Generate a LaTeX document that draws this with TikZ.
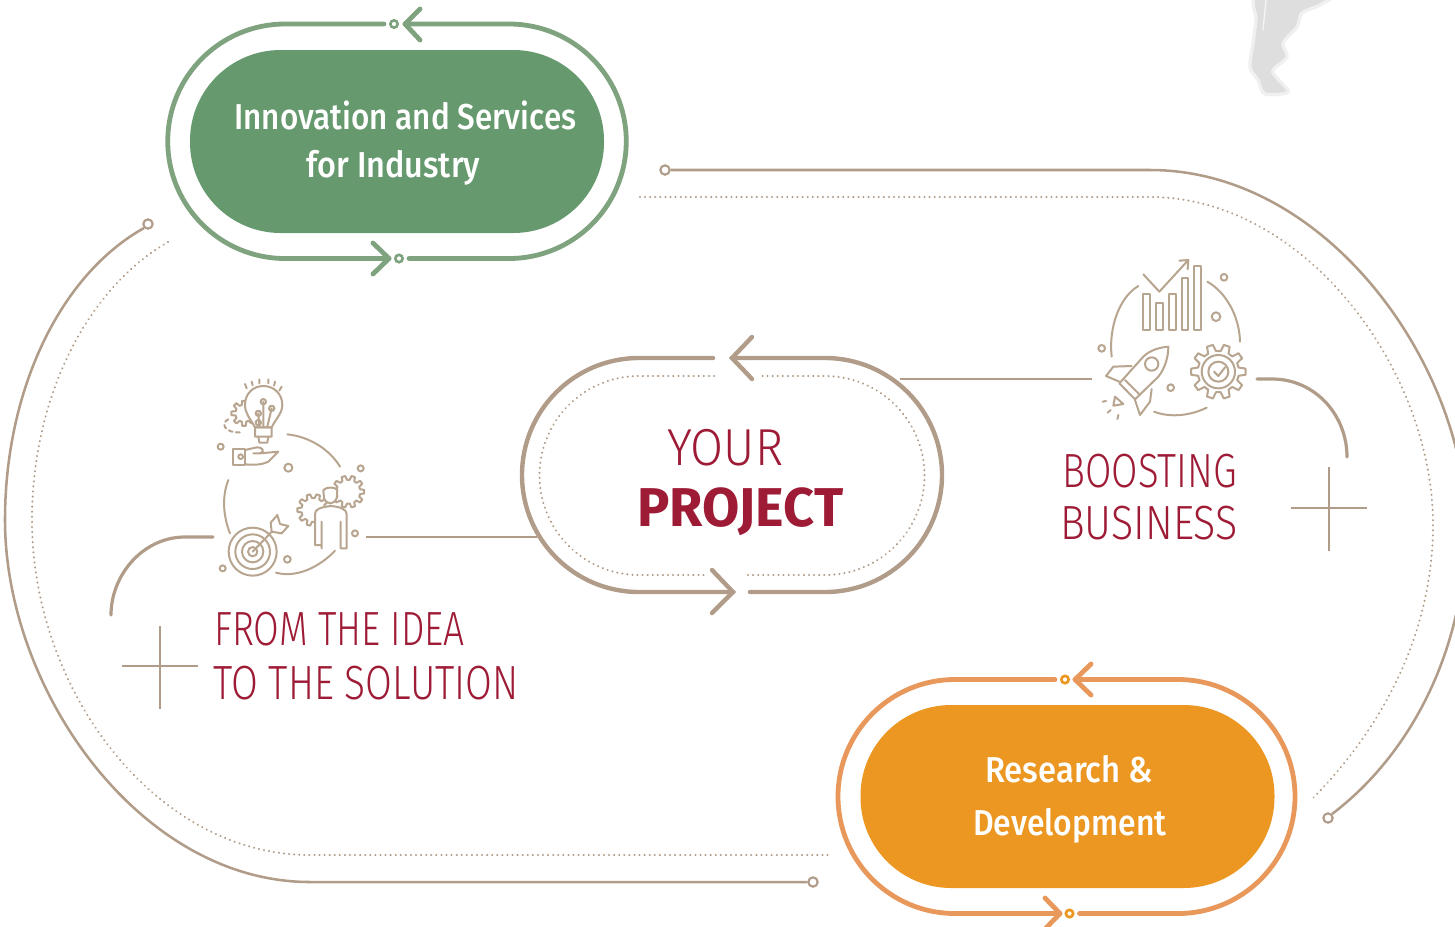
\documentclass[tikz,border=0pt]{standalone}
\usepackage{fontspec}
\usepackage{graphicx}
\setmainfont{Fira Sans Medium}[BoldFont={Fira Sans Bold}]
\newfontfamily\lightf{Fira Sans Light}
\definecolor{tan}{HTML}{B09C88}
\definecolor{icont}{HTML}{B8A590}
\definecolor{crim}{HTML}{9E1B36}
\definecolor{grn}{HTML}{669A6E}
\definecolor{grnr}{HTML}{7FA27F}
\definecolor{org}{HTML}{EB9722}
\definecolor{orgr}{HTML}{E8985A}
\definecolor{mapg}{HTML}{DEDEDE}
\newcommand{\fw}[2]{\resizebox{#1pt}{\height}{#2}}
\newcommand{\geartrack}[5]{%
  \draw[fill=white] ({#1+#4*cos(-0.32*360/#5)},{#2+#4*sin(-0.32*360/#5)})
  \foreach \i in {0,...,\numexpr#5-1\relax}{
    -- ({#1+#4*cos((\i-0.32)*360/#5)},{#2+#4*sin((\i-0.32)*360/#5)})
    -- ({#1+#3*cos((\i-0.18)*360/#5)},{#2+#3*sin((\i-0.18)*360/#5)})
    -- ({#1+#3*cos((\i+0.18)*360/#5)},{#2+#3*sin((\i+0.18)*360/#5)})
    -- ({#1+#4*cos((\i+0.32)*360/#5)},{#2+#4*sin((\i+0.32)*360/#5)})
  } -- cycle;}
\tikzset{
  track/.style={draw=tan,line width=1.9pt},
  dotline/.style={draw=tan,line width=1.7pt,line cap=round,dash pattern=on 0.01pt off 3.8pt},
  cring/.style={draw=tan,line width=3.3pt,line cap=round},
  gring/.style={draw=grnr,line width=3.6pt,line cap=round,line join=round},
  oring/.style={draw=orgr,line width=3.6pt,line cap=round,line join=round},
  pill/.style={rectangle,rounded corners=68pt,minimum width=#1,minimum height=137.25pt,inner sep=0pt},
  tipdot/.style={circle,draw=#1,line width=1.6pt,fill=white,minimum size=7pt,inner sep=0pt},
  smalldot/.style={circle,draw=#1,line width=2pt,fill=white,minimum size=5.5pt,inner sep=0pt},
  wlabel/.style={anchor=base west,inner sep=0pt,text=white,font=\fontsize{27}{27}\selectfont},
  rlabel/.style={anchor=base west,inner sep=0pt,text=crim,font=\lightf\fontsize{36}{36}\selectfont},
  icon/.style={draw=icont,line width=1.5pt,line cap=round,line join=round},
  hook/.style={draw=tan,line width=2.4pt,line cap=round},
  crossl/.style={draw=tan,line width=1.5pt},
}
\begin{document}
\begin{tikzpicture}[x=0.75pt,y=-0.75pt]
\useasboundingbox (0,0) rectangle (1455,926);
\clip (0,0) rectangle (1455,926);
% map fragment
\filldraw[fill=mapg,draw=mapg!45,line width=2.5pt] plot[smooth cycle,tension=0.5] coordinates {(1258,-5)(1330,-5)(1320,5)(1302,13)(1297,27)(1283,43)(1287,57)(1273,70)(1277,78)(1288,92)(1265,94)(1258,80)(1250,67)(1253,43)(1256,20)};
\draw[white!70!mapg,line width=1pt] (1266,0) -- (1263,30);
% dot ends of outer tracks
\node[tipdot=tan] (tr1) at (665,170) {};
\node[tipdot=tan] (tr2) at (1328,818) {};
\node[tipdot=tan] (tl1) at (148,224) {};
\node[tipdot=tan] (tl2) at (813,882) {};
\draw[track] (tr1.east) -- (1150,170) .. controls (1330,170) and (1466,370) .. (1466,525) .. controls (1466,650) and (1410,755) .. (tr2.45);
\draw[track] (tl1.225) .. controls (60,275) and (5,390) .. (5,520) .. controls (5,690) and (140,882) .. (310,882) -- (tl2.west);
\draw[dotline] (640,197) -- (1150,197) .. controls (1305,197) and (1433,370) .. (1433,525) .. controls (1433,630) and (1385,725) .. (1313,798);
\draw[dotline] (168,242) .. controls (85,290) and (32,400) .. (32,520) .. controls (32,690) and (155,855) .. (310,855) -- (832,855);
% green block
\node[pill=310.5pt,fill=grn] (gp) at (397,141.5) {};
\node[smalldot=grnr] (gd1) at (394,24) {};
\node[smalldot=grnr] (gd2) at (399,258.5) {};
\draw[gring] (gd1.west) ++(-5,0) -- (285,24) arc[start angle=270,end angle=90,radius=117.25] -- (389,258.5);
\draw[gring] (373,243) -- (389,258.5) -- (373,274);
\draw[gring] (gd2.east) ++(5,0) -- (509,258.5) arc[start angle=90,end angle=-90,radius=117.25] -- (405,24);
\draw[gring] (420,9) -- (405,24) -- (420,40);
\node[wlabel] (g1) at (234,129) {\fw{256.5}{Innovation and Services}};
\node[wlabel] (g2) at (306,177) {\fw{130.5}{for Industry}};
% orange block
\node[pill=310.5pt,fill=org] (op) at (1067.5,796.5) {};
\node[smalldot=org] (od1) at (1065,679.5) {};
\node[smalldot=org] (od2) at (1069.5,913.5) {};
\draw[oring] (od1.west) ++(-5,0) -- (955,679.5) arc[start angle=270,end angle=90,radius=117] -- (1060,913.5);
\draw[oring] (1045,898) -- (1060,913.5) -- (1045,929);
\draw[oring] (od2.east) ++(5,0) -- (1178,913.5) arc[start angle=90,end angle=-90,radius=117] -- (1075,679.5);
\draw[oring] (1091,664) -- (1075,679.5) -- (1091,695);
\node[wlabel] (o1) at (985,782) {\fw{126}{Research \&}};
\node[wlabel] (o2) at (973,835) {\fw{145}{Development}};
% centre ring
\coordinate (cr) at (900,379);
\coordinate (cl) at (537,537);
\coordinate (ir) at (1092,379);
\coordinate (il) at (366,537);
\draw[track] (cr) -- (ir);
\draw[track] (il) -- (cl);
\draw[cring] (713,358) -- (639,358) arc[start angle=270,end angle=90,radius=117] -- (733,592);
\draw[cring] (712,570) -- (733,592) -- (712,613);
\draw[cring] (750,592) -- (825,592) arc[start angle=90,end angle=-90,radius=117] -- (732,358);
\draw[cring] (752,337) -- (732,358) -- (752,379);
\draw[dotline] (714,376) -- (639,376) arc[start angle=270,end angle=90,radius=99.5] -- (708,575);
\draw[dotline] (748,575) -- (825,575) arc[start angle=90,end angle=-90,radius=99.5] -- (760,376);
\node[anchor=base west,inner sep=0pt,text=crim,font=\lightf\fontsize{39}{39}\selectfont] (yo) at (667,465) {\fw{87}{YOUR}};
\node[anchor=base west,inner sep=0pt,text=crim,font=\bfseries\fontsize{41}{41}\selectfont] (pr) at (637,526) {\fw{154.5}{PROJECT}};
% right caption
\coordinate (h1a) at (1257,379);
\coordinate (h1b) at (1347,457);
\draw[hook] (h1a) -- (1272,379) .. controls (1315,379) and (1347,415) .. (h1b);
\coordinate (x1l) at (1291,508); \coordinate (x1r) at (1367,508);
\coordinate (x1t) at (1329,467); \coordinate (x1b) at (1329,551);
\draw[crossl] (x1l) -- (x1r) (x1t) -- (x1b);
\node[rlabel] (b1) at (1062,487) {\fw{131}{BOOSTING}};
\node[rlabel] (b2) at (1060,539) {\fw{133}{BUSINESS}};
% left caption
\coordinate (h2a) at (213,537);
\coordinate (h2b) at (111,615);
\draw[hook] (h2a) -- (185,537) .. controls (143,537) and (111,575) .. (h2b);
\coordinate (x2l) at (122,666); \coordinate (x2r) at (198,666);
\coordinate (x2t) at (160,626); \coordinate (x2b) at (160,709);
\draw[crossl] (x2l) -- (x2r) (x2t) -- (x2b);
\node[rlabel] (f1) at (214,645) {\fw{188}{FROM THE IDEA}};
\node[rlabel] (f2) at (213,699) {\fw{229}{TO THE SOLUTION}};
% business icon
\begin{scope}[shift={(1080,240)},x=0.25pt,y=-0.25pt,every path/.style={icon}]
\draw (175,138) .. controls (120,170) and (85,260) .. (95,350);
\draw (382,125) .. controls (435,155) and (478,225) .. (480,305);
\draw (222,515) .. controls (275,535) and (335,525) .. (380,503);
\draw (190,162) rectangle (210,270) (228,190) rectangle (248,270) (267,162) rectangle (287,270) (306,115) rectangle (325,270) (343,78) rectangle (362,270);
\draw (190,103) -- (238,155) -- (325,60) (298,62) -- (325,60) -- (323,88);
\draw (432,112) circle[radius=10] (408,230) circle[radius=13] (65,325) circle[radius=10] (272,443) circle[radius=10];
\draw (118,430) -- (190,350) .. controls (210,330) and (240,322) .. (265,320) .. controls (265,350) and (255,385) .. (235,410) -- (165,478) -- cycle;
\draw (155,378) -- (100,380) -- (78,408) -- (118,425) (215,447) -- (210,485) -- (180,525) -- (165,480);
\draw (215,372) circle[radius=20];
\draw (105,470) -- (130,492) -- (100,497) -- cycle;
\draw (135,420) -- (180,465) (68,485) -- (78,483) (83,518) -- (92,510) (112,537) -- (115,525);
\geartrack{415}{395}{82}{62}{10}
\draw (415,395) circle[radius=50] (415,395) circle[radius=30];
\draw (402,395) -- (415,408) -- (435,382);
\end{scope}
% idea icon
\begin{scope}[shift={(200,370)},x=0.25pt,y=-0.25pt,every path/.style={icon}]
\draw (262,193) .. controls (330,200) and (390,240) .. (420,290);
\draw (85,330) .. controls (65,380) and (70,440) .. (90,490);
\draw (228,608) .. controls (290,625) and (360,590) .. (405,542);
\draw (62,230) circle[radius=9] (265,293) circle[radius=12] (482,295) circle[radius=9] (465,490) circle[radius=9] (262,568) circle[radius=10] (68,595) circle[radius=9];
\geartrack{132}{130}{38}{26}{8}
\draw[fill=white] (165,172) .. controls (150,145) and (135,130) .. (135,105) .. controls (135,70) and (160,48) .. (190,48) .. controls (222,48) and (247,72) .. (247,105) .. controls (247,130) and (225,150) .. (215,172) -- cycle;
\draw (165,172) rectangle (215,200) (175,200) -- (178,218) -- (202,218) -- (205,200);
\draw (190,170) -- (190,95) (178,170) -- (175,130) (202,170) -- (215,115);
\draw (190,95) circle[radius=8] (175,130) circle[radius=8] (215,115) circle[radius=8] (175,158) circle[radius=8];
\draw (135,42) -- (140,55) (155,35) -- (158,46) (178,28) -- (178,40) (205,28) -- (205,40) (225,35) -- (222,47) (245,50) -- (238,62);
\draw[dash pattern=on 3pt off 2.5pt] (85,148) .. controls (65,155) and (65,190) .. (125,187);
\draw (98,238) rectangle (135,285);
\draw (122,260) circle[radius=7];
\draw (135,240) -- (170,232) .. controls (190,232) and (195,245) .. (180,250) -- (160,250) (180,250) -- (235,245) -- (205,275) .. controls (185,285) and (160,285) .. (135,283);
\geartrack{445}{365}{48}{36}{10}
\geartrack{340}{420}{48}{36}{10}
\path[fill=white,draw=none] (345,432) .. controls (345,418) and (360,412) .. (392,408) .. controls (420,410) and (440,418) .. (440,432) -- (440,535) -- (345,535) -- cycle;
\draw (365,535) -- (365,455) (365,525) -- (345,525) -- (345,432) .. controls (345,418) and (360,412) .. (392,408) .. controls (420,410) and (440,418) .. (440,432) -- (440,535) -- (422,535) -- (422,455);
\draw[fill=white] (370,360) .. controls (380,350) and (405,350) .. (412,360) -- (410,385) .. controls (400,405) and (382,405) .. (372,385) -- cycle;
\draw (158,545) circle[radius=72] (158,545) circle[radius=52] (158,545) circle[radius=32] (158,545) circle[radius=14];
\draw (158,545) -- (222,478);
\draw[fill=white] (215,485) -- (212,458) -- (232,435) -- (240,462) -- (265,468) -- (245,490) -- cycle;
\end{scope}
\end{tikzpicture}
\end{document}
